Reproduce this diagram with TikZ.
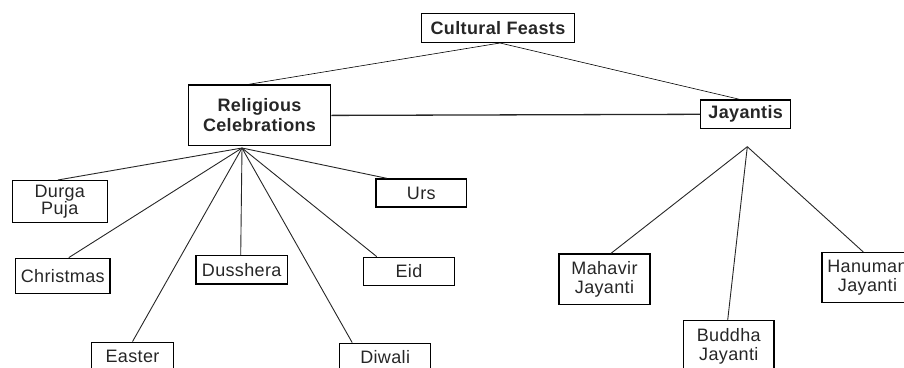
\documentclass[tikz,border=0pt]{standalone}
\usepackage{fontspec}
\setmainfont{Liberation Sans}[LetterSpace=2]
\usetikzlibrary{positioning}

\tikzset{
  feast/.style={draw, line width=1.4pt, inner sep=0pt, align=center,
    font=\fontsize{18}{19}\selectfont, text=black!85},
  group/.style={feast, font=\bfseries\fontsize{18}{20}\selectfont},
  link/.style={line width=0.9pt, black!85}
}

\begin{document}
\begin{tikzpicture}[x=1pt, y=-1pt]
    \useasboundingbox (0,0) rectangle (904,367);

    \node[group, minimum width=152.6, minimum height=29] (cultural) at (498,27.8) {Cultural Feasts};
    \node[group, minimum width=142.4, minimum height=60.7] (religious) at (259.5,115.4) {Religious\\Celebrations};
    \node[group, minimum width=90, minimum height=28.7] (jayantis) at (745.7,114.3) {Jayantis};

    \node[feast, minimum width=95, minimum height=42] (durga) at (59.8,201.7) {Durga\\[-2pt]Puja};
    \node[feast, minimum width=94.3, minimum height=35.4] (christmas) at (62.8,276) {Christmas};
    \node[feast, minimum width=81.6, minimum height=28] (easter) at (132.5,356.3) {Easter};
    \node[feast, minimum width=91.3, minimum height=28.3] (dusshera) at (241.7,269.9) {Dusshera};
    \node[feast, minimum width=91, minimum height=28.4] (diwali) at (385.2,357.5) {Diwali};
    \node[feast, minimum width=90.6, minimum height=28] (eid) at (409,271.3) {Eid};
    \node[feast, minimum width=90.7, minimum height=28] (urs) at (421.3,193) {Urs};

    \node[feast, minimum width=91, minimum height=50.3] (mahavir) at (604.5,279.2) {Mahavir\\Jayanti};
    \node[feast, minimum width=90.3, minimum height=50.6] (buddha) at (728.8,346) {Buddha\\Jayanti};
    \node[feast, minimum width=91, minimum height=50] (hanuman) at (867.5,277.7) {Hanuman\\Jayanti};

    \coordinate (relhub) at (242,148);
    \coordinate (jayhub) at (747.3,146.7);

    \draw[line width=0.6pt] ([xshift=2]cultural.south) -- ([xshift=-11]religious.north);
    \draw[line width=0.6pt] ([xshift=2]cultural.south) -- ([xshift=-6.4]jayantis.north);
    \draw[link, line width=1.3pt] (religious.east) -- (jayantis.west);

    \draw[link] (relhub) -- ([xshift=-2]durga.north);
    \draw[link] (relhub) -- ([xshift=6]christmas.north);
    \draw[link] (relhub) -- (easter.north);
    \draw[link] (relhub) -- ([xshift=-1]dusshera.north);
    \draw[link] (relhub) -- ([xshift=-33]diwali.north);
    \draw[link] (relhub) -- ([xshift=-32.3]eid.north);
    \draw[link] (relhub) -- ([xshift=-34.6]urs.north);

    \draw[link] (jayhub) -- ([xshift=6.5]mahavir.north);
    \draw[link] (jayhub) -- ([xshift=-1.1]buddha.north);
    \draw[link] (jayhub) -- ([xshift=-4.2]hanuman.north);

\end{tikzpicture}
\end{document}
